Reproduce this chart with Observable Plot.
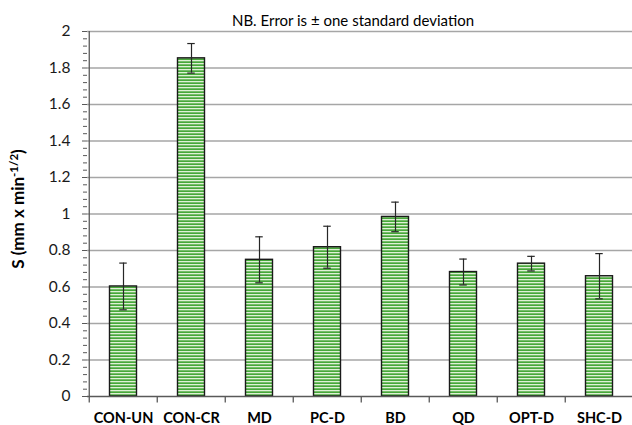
<!DOCTYPE html>
<html>
<head>
<meta charset="utf-8">
<script src="https://cdn.jsdelivr.net/npm/d3@7"></script>
<script src="https://cdn.jsdelivr.net/npm/@observablehq/plot@0.6"></script>
<style>
  html, body { margin: 0; padding: 0; background: #fff; }
  #chart svg { display: block; }
</style>
</head>
<body>
<div id="chart"></div>
<script>
const categories = ["CON-UN", "CON-CR", "MD", "PC-D", "BD", "QD", "OPT-D", "SHC-D"];
const means = [0.603, 1.853, 0.749, 0.818, 0.984, 0.682, 0.728, 0.659];
const sds = [0.128, 0.081, 0.126, 0.115, 0.081, 0.071, 0.040, 0.124];
const yTicks = [0, 0.2, 0.4, 0.6, 0.8, 1, 1.2, 1.4, 1.6, 1.8, 2];
const yMinorTicks = d3.range(0, 101).map(i => i * 0.02).filter((v, i) => i % 2 === 0 && i % 10 !== 0);
const noteText = "NB. Error is ± one standard deviation";

const rows = categories.map((c, i) => ({cat: c, mean: means[i], lo: means[i] - sds[i], hi: means[i] + sds[i]}));

const FONT = "Lato, 'Open Sans', sans-serif";
const bw = (635 - 87) / categories.length;

const chart = Plot.plot({
  width: 632,
  height: 425,
  marginLeft: 87,
  marginRight: 0,
  marginTop: 31,
  marginBottom: 29,
  style: {fontFamily: FONT, background: "#fff", overflow: "visible"},
  x: {domain: categories, range: [87, 635], padding: 0, label: null, axis: null},
  y: {domain: [0, 2], label: null, axis: null},
  marks: [
    Plot.ruleY(yTicks.filter(d => d > 0), {stroke: "#a6a6a6", strokeWidth: 1.5}),
    Plot.axisY(yMinorTicks, {tickSize: 4, tickFormat: null, text: null, stroke: "#595959", label: null}),
    Plot.axisY(yTicks, {tickSize: 5, tickPadding: 12, tickFormat: d => String(d), fontSize: 15.5, fill: "#1a1a1a", stroke: "#595959", label: null}),
    Plot.barY(rows, {x: "cat", y: "mean", fill: "url(#stripes)", stroke: "#1a1a1a", strokeWidth: 1.4, insetLeft: 20.5, insetRight: 20.5}),
    Plot.ruleX(rows, {x: "cat", y1: "lo", y2: "hi", stroke: "#262626", strokeWidth: 1.2}),
    Plot.tickY(rows, {x: "cat", y: "lo", stroke: "#262626", strokeWidth: 1.2, insetLeft: bw / 2 - 4, insetRight: bw / 2 - 4}),
    Plot.tickY(rows, {x: "cat", y: "hi", stroke: "#262626", strokeWidth: 1.2, insetLeft: bw / 2 - 4, insetRight: bw / 2 - 4}),
    Plot.ruleX(categories, {x: d => d, dx: -bw / 2, y1: 0, y2: -0.035, stroke: "#595959", strokeWidth: 1.3}),
    Plot.ruleX([categories[0]], {x: d => d, dx: -bw / 2, y1: 0, y2: 2, stroke: "#595959", strokeWidth: 1.3}),
    Plot.ruleY([0], {stroke: "#595959", strokeWidth: 1.5}),
    Plot.text(categories, {x: d => d, y: 0, dy: 22, text: d => d, fontWeight: "bold", fontSize: 14.5, fill: "#000"}),
    Plot.text([noteText], {frameAnchor: "top", text: d => d, dy: -16, dx: -7, fontSize: 15, fill: "#000"})
  ]
});

// stripe pattern definition for bar fill
const svg = d3.select(chart);
const defs = svg.insert("defs", ":first-child");
const pat = defs.append("pattern")
  .attr("id", "stripes")
  .attr("patternUnits", "userSpaceOnUse")
  .attr("width", 10)
  .attr("height", 3);
pat.append("rect").attr("width", 10).attr("height", 3).attr("fill", "#47a83a");
pat.append("rect").attr("y", 0).attr("width", 10).attr("height", 1.3).attr("fill", "#dff0d6");

// rotated y-axis title with superscript
const yl = svg.append("text")
  .attr("transform", "translate(24,209) rotate(-90)")
  .attr("text-anchor", "middle")
  .attr("font-family", FONT)
  .attr("font-weight", "bold")
  .attr("font-size", 17)
  .attr("fill", "#000");
yl.append("tspan").text("S (mm x min");
yl.append("tspan").attr("dy", -6).attr("font-size", 11.5).text("-1/2");
yl.append("tspan").attr("dy", 6).text(")");

document.getElementById("chart").appendChild(chart);
</script>
</body>
</html>
